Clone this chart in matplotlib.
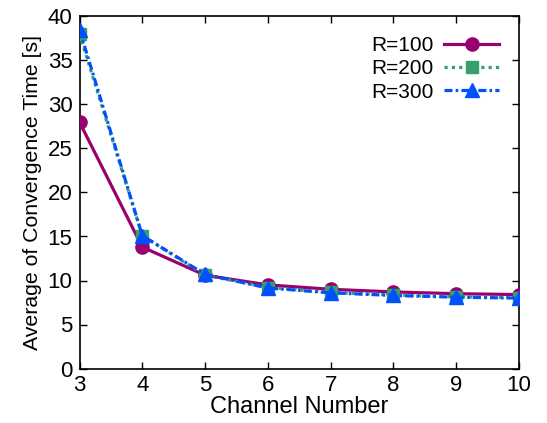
import matplotlib
matplotlib.use("Agg")
import matplotlib.pyplot as plt

plt.rcParams['font.family'] = ['Liberation Sans', 'DejaVu Sans']

channels = [3, 4, 5, 6, 7, 8, 9, 10]
r100 = [28.0, 13.8, 10.6, 9.5, 9.0, 8.7, 8.5, 8.4]
r200 = [38.0, 15.1, 10.6, 9.2, 8.65, 8.35, 8.15, 8.05]
r300 = [38.5, 15.1, 10.7, 9.15, 8.6, 8.3, 8.1, 8.0]
labels = ['R=100', 'R=200', 'R=300']

fig = plt.figure(figsize=(5.47, 4.23), dpi=100)
ax = fig.add_axes([79.5 / 547, (423 - 368.5) / 423, (519 - 79.5) / 547, (368.5 - 16.5) / 423])

ax.plot(channels, r100, color='#990070', lw=2.3, marker='o', ms=9.5, label=labels[0], zorder=3)
ax.plot(channels, r200, color='#35a06a', lw=2.3, ls=(0, (1.0, 1.3)), marker='s', ms=9, label=labels[1], zorder=4)
ax.plot(channels, r300, color='#0050ff', lw=2.3, ls=(0, (2.5, 1.0, 0.8, 1.0)), marker='^', ms=9.5, label=labels[2], zorder=5)

ax.set_xlim(3, 10)
ax.set_ylim(0, 40)
ax.set_xticks(channels)
ax.set_yticks(range(0, 41, 5))
ax.tick_params(direction='in', top=True, right=True, labelsize=16, length=5, width=1, pad=5)
for s in ax.spines.values():
    s.set_linewidth(1.2)
ax.set_xlabel('Channel Number', fontsize=17, labelpad=0)
ax.set_ylabel('Average of Convergence Time [s]', fontsize=15.3, labelpad=4)

ax.legend(loc='upper right', frameon=False, markerfirst=False, fontsize=15,
          handlelength=2.65, labelspacing=0.2, borderaxespad=0.55, handletextpad=0.5,
          borderpad=0.4)

fig.savefig('out.png', dpi=100)
